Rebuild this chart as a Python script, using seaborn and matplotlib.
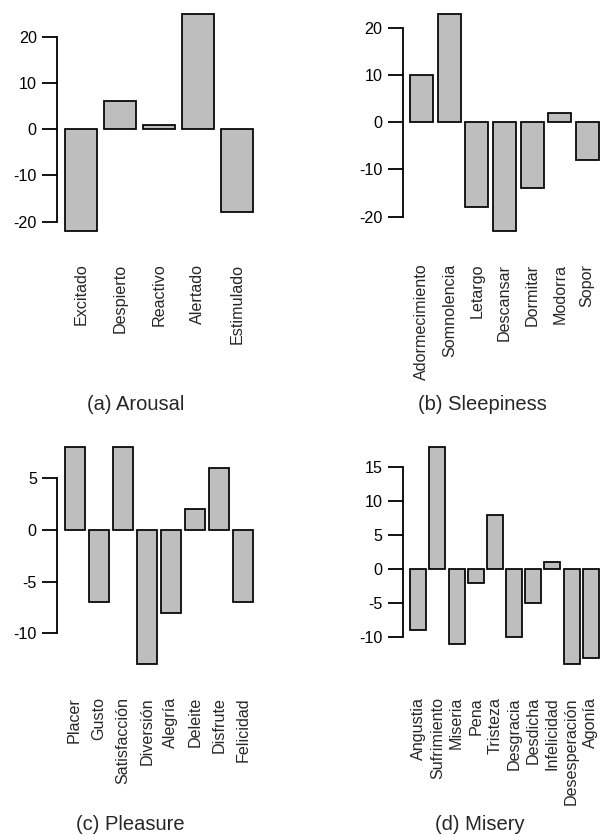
import numpy as np
import seaborn as sns
import matplotlib
matplotlib.use("Agg")
import matplotlib.pyplot as plt

# Datos de cada panel
arousal_palabras = ["Excitado", "Despierto", "Reactivo", "Alertado", "Estimulado"]
arousal_valores = [-22, 6, 1, 25, -18]
arousal_ticks = [-20, -10, 0, 10, 20]

sleep_palabras = ["Adormecimiento", "Somnolencia", "Letargo", "Descansar",
                  "Dormitar", "Modorra", "Sopor"]
sleep_valores = [10, 23, -18, -23, -14, 2, -8]
sleep_ticks = [-20, -10, 0, 10, 20]

pleasure_palabras = ["Placer", "Gusto", "Satisfacción", "Diversión", "Alegría",
                     "Deleite", "Disfrute", "Felicidad"]
pleasure_valores = [8, -7, 8, -13, -8, 2, 6, -7]
pleasure_ticks = [-10, -5, 0, 5]

misery_palabras = ["Angustia", "Sufrimiento", "Miseria", "Pena", "Tristeza",
                   "Desgracia", "Desdicha", "Infelicidad", "Desesperación", "Agonía"]
misery_valores = [-9, 18, -11, -2, 8, -10, -5, 1, -14, -13]
misery_ticks = [-10, -5, 0, 5, 10, 15]

titulos = ["(a) Arousal", "(b) Sleepiness", "(c) Pleasure", "(d) Misery"]

sns.set_theme(style="white")
plt.rcParams["font.family"] = ["Liberation Sans", "DejaVu Sans"]
plt.rcParams["axes.unicode_minus"] = False

W, H = 600, 835
fig = plt.figure(figsize=(W / 100, H / 100), dpi=100)


def panel(caja, palabras, valores, ticks):
    # caja en pixeles: izquierda, arriba, ancho, alto
    x0, y0, w, h = caja
    ax = fig.add_axes([x0 / W, 1 - (y0 + h) / H, w / W, h / H])
    sns.barplot(x=palabras, y=valores, color="#bebebe", saturation=1,
                edgecolor="black", linewidth=1.25, width=1 / 1.2, ax=ax)
    # limites al estilo R (barplot con space=0.2 y 4% de margen)
    n = len(valores)
    lo, hi = min(0, min(valores)), max(0, max(valores))
    r = hi - lo
    ax.set_ylim(lo - 0.04 * r, hi + 0.04 * r)
    xr = 1.2 * n - 0.2
    xl = [0.2 - 0.04 * xr, 1.2 * n + 0.04 * xr]
    ax.set_xlim([(v - 0.7) / 1.2 for v in xl])
    ax.set_yticks(ticks)
    ax.set_yticklabels([str(t) for t in ticks])
    for s in ["top", "right", "bottom"]:
        ax.spines[s].set_visible(False)
    ax.spines["left"].set_bounds(ticks[0], ticks[-1])
    ax.spines["left"].set_linewidth(1.3)
    ax.spines["left"].set_color("black")
    ax.tick_params(axis="y", direction="out", length=11, width=1.3,
                   pad=3.5, labelsize=11.6, colors="black", left=True)
    ax.tick_params(axis="x", length=0, pad=17.3, labelsize=11.6)
    for lab in ax.get_xticklabels():
        lab.set_rotation(90)
        lab.set_ha("center")
        lab.set_va("top")
    ax.set_xlabel("")
    ax.set_ylabel("")
    ax.patch.set_alpha(0)
    return ax


panel((57, 5, 203.6, 234.5), arousal_palabras, arousal_valores, arousal_ticks)
panel((402.7, 5, 203.6, 234.5), sleep_palabras, sleep_valores, sleep_ticks)
panel((57, 438.3, 203.6, 234.7), pleasure_palabras, pleasure_valores, pleasure_ticks)
panel((402.7, 438.3, 203.6, 234.7), misery_palabras, misery_valores, misery_ticks)

# subtitulos de cada panel
pos = [(135.7, 405), (482.5, 405), (130.5, 824), (480, 824)]
for t, (px, py) in zip(titulos, pos):
    fig.text(px / W, 1 - py / H, t, ha="center", va="center", fontsize=14.5)

fig.savefig("out.png", dpi=100)
